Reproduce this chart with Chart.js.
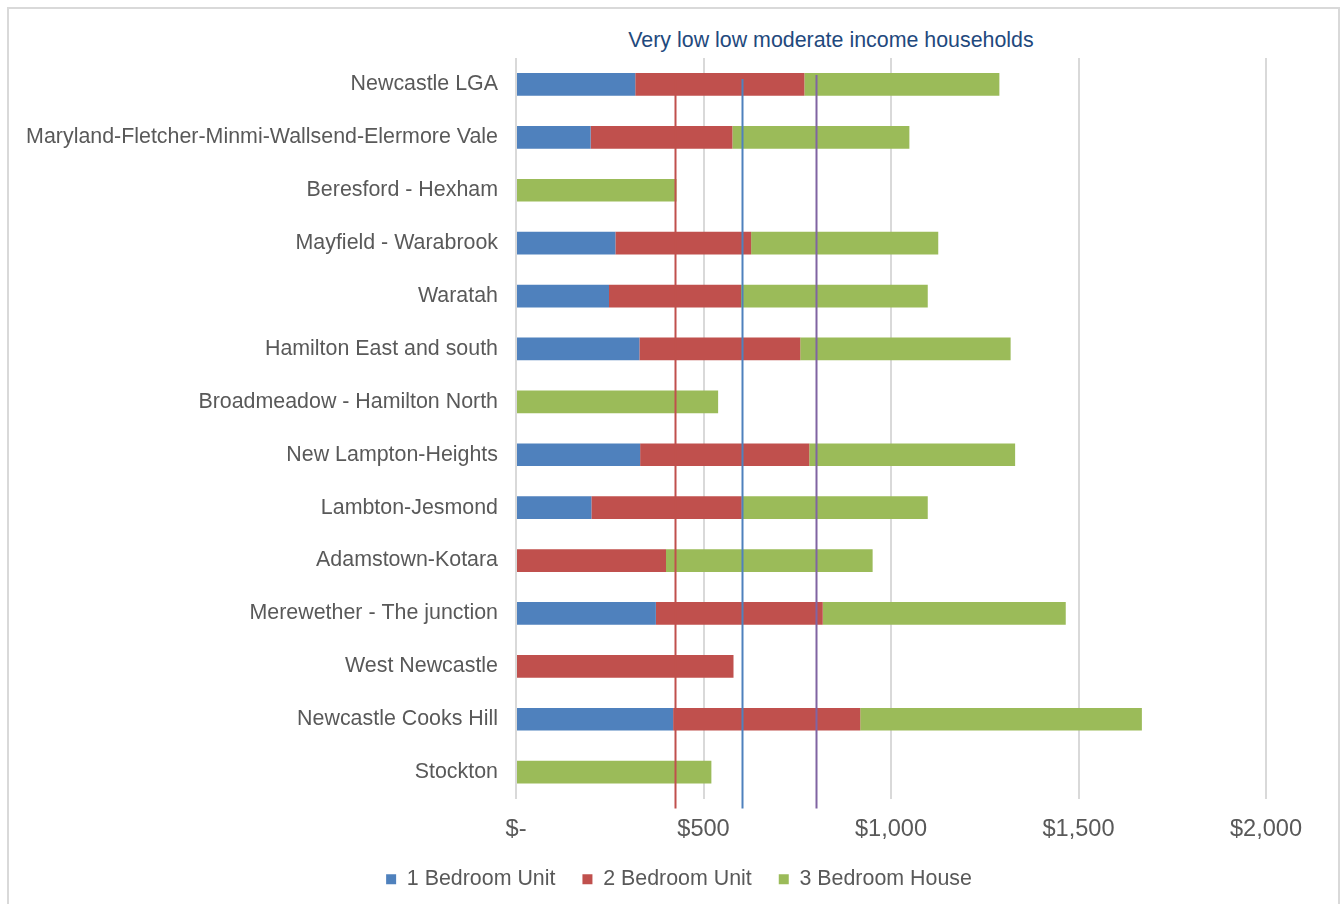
<!DOCTYPE html>
<html>
<head>
<meta charset="utf-8">
<script src="https://cdn.jsdelivr.net/npm/chart.js"></script>
<style>
  body { margin: 0; background: #fff; overflow: hidden; }
  #frame { position: absolute; left: 7px; top: 7px; width: 1329px; height: 940px; border: 2px solid #d9d9d9; }
  #title { position: absolute; left: 0; top: 28px; width: 1662px; text-align: center; font: 21.4px "Liberation Sans", Arial, sans-serif; color: #1F497D; }
  #wrap { position: absolute; left: 0; top: 0; width: 1342px; height: 904px; }
</style>
</head>
<body>
<div id="frame"></div>
<div id="title">Very low low moderate income households</div>
<div id="wrap"><canvas id="chart" width="1342" height="904"></canvas></div>
<script>
const areas = ['Newcastle LGA', 'Maryland-Fletcher-Minmi-Wallsend-Elermore Vale', 'Beresford - Hexham',
  'Mayfield - Warabrook', 'Waratah', 'Hamilton East and south', 'Broadmeadow - Hamilton North',
  'New Lampton-Heights', 'Lambton-Jesmond', 'Adamstown-Kotara', 'Merewether - The junction',
  'West Newcastle', 'Newcastle Cooks Hill', 'Stockton']
const oneBed = [318, 199, 0, 265, 248, 329, 0, 331, 201, 0, 373, 0, 419, 0]
const twoBed = [451, 378, 0, 362, 352, 429, 0, 451, 401, 400, 445, 580, 499, 0]
const threeBed = [520, 472, 428, 499, 498, 561, 539, 549, 496, 551, 648, 0, 751, 521]
const xTicks = [0, 500, 1000, 1500, 2000]

// affordable rent thresholds (vertical lines)
const thresholds = [
  { value: 425, color: '#C0504D', top: 21 },
  { value: 602, color: '#4F81BD', top: 21 },
  { value: 800, color: '#8064A2', top: 17 }
]

const thresholdLines = {
  id: 'thresholdLines',
  afterDatasetsDraw(chart) {
    const ctx = chart.ctx
    const x = chart.scales.x
    const area = chart.chartArea
    thresholds.forEach((t) => {
      const px = Math.round(x.getPixelForValue(t.value)) + 0.5
      ctx.save()
      ctx.strokeStyle = t.color
      ctx.lineWidth = 2
      ctx.beginPath()
      ctx.moveTo(px, area.top + t.top)
      ctx.lineTo(px, area.bottom + 10)
      ctx.stroke()
      ctx.restore()
    })
  }
}

// legend is centred on the whole chart box in the original, not left of the right padding
const shiftLegend = {
  id: 'shiftLegend',
  afterLayout(chart) {
    chart.legend.left += 46
    chart.legend.right += 46
    chart.legend.top -= 4
    chart.legend.bottom -= 4
  }
}

const font = { family: '"Liberation Sans", Arial, sans-serif', size: 21.4 }

new Chart(document.getElementById('chart'), {
  type: 'bar',
  data: {
    labels: areas,
    datasets: [
      { label: '1 Bedroom Unit', data: oneBed, backgroundColor: '#4F81BD' },
      { label: '2 Bedroom Unit', data: twoBed, backgroundColor: '#C0504D' },
      { label: '3 Bedroom House', data: threeBed, backgroundColor: '#9BBB59' }
    ]
  },
  options: {
    indexAxis: 'y',
    responsive: false,
    animation: false,
    datasets: { bar: { categoryPercentage: 1, barPercentage: 0.43 } },
    layout: { padding: { top: 58, right: 76, bottom: 0, left: 0 } },
    scales: {
      x: {
        stacked: true,
        min: 0,
        max: 2000,
        afterBuildTicks: (axis) => { axis.ticks = xTicks.map((v) => ({ value: v })) },
        afterFit: (axis) => { axis.height = 47 },
        grid: { color: '#d9d9d9', lineWidth: 2, drawTicks: false },
        border: { display: false },
        ticks: {
          color: '#595959',
          padding: 17,
          font: { family: font.family, size: 23.6 },
          callback: (v) => v === 0 ? '$-' : '$' + v.toLocaleString('en-US')
        }
      },
      y: {
        stacked: true,
        afterFit: (axis) => { axis.width = 516 },
        grid: { display: false },
        border: { display: false },
        ticks: { color: '#595959', padding: 10, font: font }
      }
    },
    plugins: {
      legend: {
        position: 'bottom',
        labels: { color: '#595959', font: font, boxWidth: 10, boxHeight: 10, padding: 27 }
      },
      tooltip: { enabled: false }
    }
  },
  plugins: [thresholdLines, shiftLegend]
})
</script>
</body>
</html>
